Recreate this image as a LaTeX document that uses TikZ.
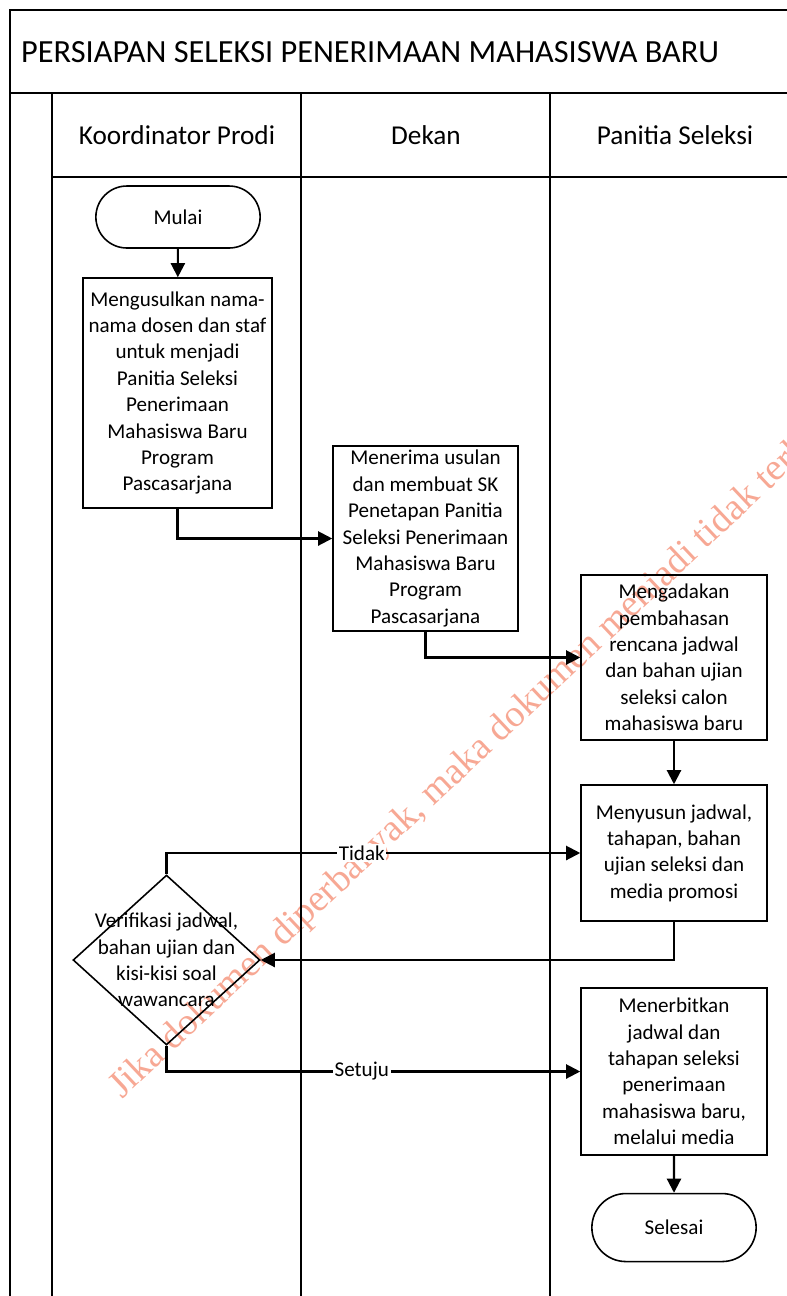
\documentclass[tikz,border=0pt]{standalone}
\usepackage{fontspec}
\setmainfont{Carlito}
\newfontfamily\wmfont{Liberation Serif}
\usetikzlibrary{positioning,arrows.meta,shapes.geometric,shapes.misc}

\definecolor{wmred}{RGB}{247,168,148}

\begin{document}
\begin{tikzpicture}[
  x=0.02cm, y=-0.02cm,
  font=\fontsize{12}{15}\selectfont,
  >={Triangle[length=8pt,width=8pt]},
  % frame and lane lines
  lane/.style={line width=0.9pt},
  lanehead/.style={font=\fontsize{15.5}{18}\selectfont},
  procbox/.style={
    draw, line width=0.9pt, align=center,
    inner sep=2pt, minimum width=3.72cm
  },
  terminal/.style={draw, rounded rectangle, line width=0.9pt,
    minimum width=3.52cm},
  decision/.style={draw, diamond, line width=0.9pt, align=center,
    inner sep=-0.5cm, minimum width=3.74cm, minimum height=3.4cm},
  flow/.style={->, line width=1.2pt},
  answer/.style={fill=white, inner sep=1pt},
  wmtext/.style={font=\wmfont\fontsize{21.6}{25}\selectfont, text=wmred},
]

% Canvas = 787 x 1296 px, y runs downwards
\useasboundingbox (0,0) rectangle (787,1296);

% ---------------------------------------------------------------
% Watermark (clipped at the right edge)
% ---------------------------------------------------------------
\begin{scope}
  \clip (0,0) rectangle (787,1296);
  \node[wmtext, rotate=43.3, anchor=base west, inner sep=0pt] (wmark)
    at (122,1100) {Jika dokumen diperbanyak, maka dokumen menjadi tidak terkendali};
\end{scope}

% ---------------------------------------------------------------
% Swimlane frame
% ---------------------------------------------------------------
\begin{scope}
  \clip (0,0) rectangle (787,1296);
  \draw[lane] (10,1300) -- (10,10) -- (800,10);
  \draw[lane] (10,93) -- (800,93);
  \draw[lane] (52,93) -- (52,1300);
  \draw[lane] (52,177) -- (800,177);
  \draw[lane] (301,93) -- (301,1300);
  \draw[lane] (550,93) -- (550,1300);
\end{scope}

\node[anchor=west, font=\fontsize{18.4}{22}\selectfont] (title) at (15,52)
  {PERSIAPAN SELEKSI PENERIMAAN MAHASISWA BARU};

\node[lanehead] (hkoor) at (177,135) {Koordinator Prodi};
\node[lanehead] (hdekan) at (426,135) {Dekan};
\node[lanehead] (hpanitia) at (675,135) {Panitia Seleksi};

% ---------------------------------------------------------------
% Koordinator Prodi
% ---------------------------------------------------------------
\node[terminal, minimum height=1.24cm] (mulai) at (178,217) {Mulai};

\node[procbox, minimum width=3.78cm, minimum height=4.6cm] (usul) at (177.5,393) {
  Mengusulkan nama-\\
  nama dosen dan staf\\
  untuk menjadi\\
  Panitia Seleksi\\
  Penerimaan\\
  Mahasiswa Baru\\
  Program\\
  Pascasarjana
};

\node[decision] (verif) at (166.5,960) {
  Verifikasi jadwal,\\
  bahan ujian dan\\
  kisi-kisi soal\\
  wawancara
};

% ---------------------------------------------------------------
% Dekan
% ---------------------------------------------------------------
\node[procbox, minimum width=3.7cm, minimum height=3.7cm] (sk) at (425.5,538.5) {
  Menerima usulan\\
  dan membuat SK\\
  Penetapan Panitia\\
  Seleksi Penerimaan\\
  Mahasiswa Baru\\
  Program\\
  Pascasarjana
};

% ---------------------------------------------------------------
% Panitia Seleksi
% ---------------------------------------------------------------
\node[procbox, minimum height=3.3cm] (bahas) at (674,657.5) {
  Mengadakan\\
  pembahasan\\
  rencana jadwal\\
  dan bahan ujian\\
  seleksi calon\\
  mahasiswa baru
};

\node[procbox, minimum height=2.72cm] (susun) at (674,853) {
  Menyusun jadwal,\\
  tahapan, bahan\\
  ujian seleksi dan\\
  media promosi
};

\node[procbox, minimum height=3.34cm] (terbit) at (674,1071.5) {
  Menerbitkan\\
  jadwal dan\\
  tahapan seleksi\\
  penerimaan\\
  mahasiswa baru,\\
  melalui media
};

\node[terminal, minimum height=1.36cm, below=0.74cm of terbit] (selesai) {Selesai};

% ---------------------------------------------------------------
% Flow
% ---------------------------------------------------------------
\draw[flow] (mulai) -- (usul);
\draw[flow] (usul.south) |- (sk.west);
\draw[flow] (sk.south) |- (bahas.west);
\draw[flow] (bahas) -- (susun);
\draw[flow] (susun.south) |- (verif.east);
\draw[flow] (verif.north) |- node[answer, pos=0.736] (tidak) {Tidak} (susun.west);
\draw[flow] (verif.south) |- node[answer, pos=0.736] (setuju) {Setuju} (terbit.west);
\draw[flow] (terbit) -- (selesai);

\end{tikzpicture}
\end{document}
